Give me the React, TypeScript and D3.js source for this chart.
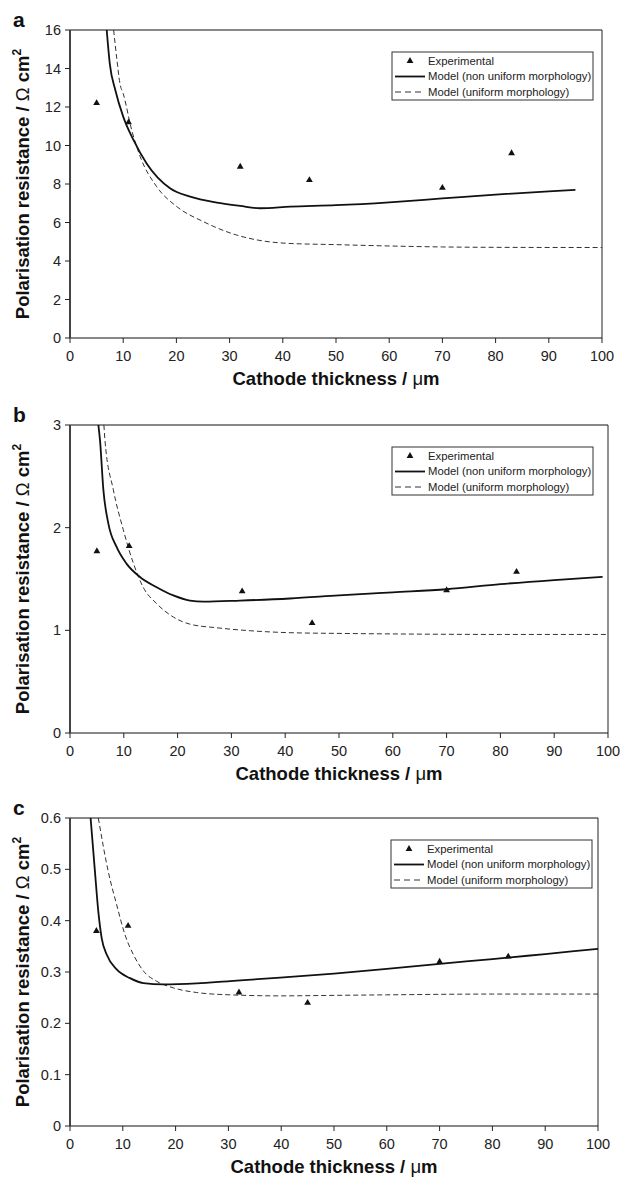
import React from "react";
import * as d3 from "d3";

// Cathode thickness (µm) at which polarisation resistance was measured
const expThickness = [5, 11, 32, 45, 70, 83];

// Measured polarisation resistance (Ω cm²)
const expA = [12.2, 11.2, 8.9, 8.2, 7.8, 9.6];
const expB = [1.77, 1.82, 1.38, 1.07, 1.39, 1.57];
const expC = [0.38, 0.39, 0.26, 0.24, 0.32, 0.33];

// Model, non uniform morphology: [thickness, resistance]
const nonUniformA: [number, number][] = [
  [6.9, 16], [7.5, 14.2], [8.5, 12.9], [10, 11.5], [11.9, 10.3], [14.4, 9.07],
  [18.8, 7.78], [22.6, 7.34], [27.6, 7.03], [32, 6.86], [35.7, 6.74], [41.4, 6.82],
  [50, 6.9], [60, 7.05], [70, 7.25], [80, 7.45], [90, 7.62], [95, 7.7],
];
const nonUniformB: [number, number][] = [
  [5.27, 3], [5.58, 2.85], [6.2, 2.37], [7.13, 2.04], [8.68, 1.81], [10.5, 1.65],
  [13, 1.52], [16.1, 1.42], [19.2, 1.34], [22.3, 1.29], [24.8, 1.28], [31.6, 1.29],
  [40.9, 1.31], [50, 1.34], [60, 1.37], [70, 1.4], [80, 1.45], [90, 1.49], [99, 1.52],
];
const nonUniformC: [number, number][] = [
  [3.9, 0.6], [4.73, 0.495], [5.36, 0.418], [6, 0.366], [6.95, 0.334], [8.84, 0.305],
  [11.36, 0.288], [13.9, 0.2785], [17.7, 0.276], [24, 0.278], [30.3, 0.2824],
  [39.8, 0.289], [50, 0.297], [60, 0.306], [70, 0.316], [80, 0.325], [90, 0.335], [100, 0.345],
];

// Model, uniform morphology: [thickness, resistance]
const uniformA: [number, number][] = [
  [8.2, 16], [8.8, 14.5], [9.4, 13.2], [10, 12.7], [11.6, 10.8], [13.2, 9.42],
  [16.3, 7.86], [20.1, 6.82], [25.1, 6.04], [31.3, 5.35], [36.3, 5.04], [40.7, 4.92],
  [50, 4.85], [60, 4.78], [70, 4.73], [80, 4.71], [100, 4.7],
];
const uniformB: [number, number][] = [
  [6.3, 3], [6.5, 2.85], [8.05, 2.37], [9.9, 1.98], [11.8, 1.65], [13.6, 1.42],
  [16.1, 1.26], [19.2, 1.13], [22.3, 1.06], [27.3, 1.025], [33.5, 0.996], [40.9, 0.977],
  [50, 0.97], [60, 0.965], [80, 0.96], [100, 0.96],
];
const uniformC: [number, number][] = [
  [5.36, 0.6], [7.26, 0.495], [8.84, 0.431], [10.4, 0.373], [12, 0.334], [13.9, 0.302],
  [16.4, 0.282], [19.6, 0.269], [24, 0.26], [30.3, 0.2555], [39.8, 0.2535], [50, 0.2545],
  [60, 0.2555], [80, 0.257], [100, 0.257],
];

const xTicks = [0, 10, 20, 30, 40, 50, 60, 70, 80, 90, 100];
const yTicksA = [0, 2, 4, 6, 8, 10, 12, 14, 16];
const yTicksB = [0, 1, 2, 3];
const yTicksC = [0, 0.1, 0.2, 0.3, 0.4, 0.5, 0.6];

const legendLabels = [
  "Experimental",
  "Model (non uniform morphology)",
  "Model (uniform morphology)",
];

const FONT = "'Liberation Sans', Arial, Helvetica, sans-serif";

type PanelProps = {
  id: string;
  letter: string;
  top: number;
  bottom: number;
  left: number;
  right: number;
  yTicks: number[];
  yFmt: (v: number) => string;
  exp: number[];
  nonUniform: [number, number][];
  uniform: [number, number][];
  legendLeft: number;
};

function Panel(p: PanelProps) {
  const x = d3.scaleLinear().domain([0, 100]).range([p.left, p.right]);
  const yMax = p.yTicks[p.yTicks.length - 1];
  const y = d3.scaleLinear().domain([0, yMax]).range([p.bottom, p.top]);
  const line = d3
    .line<[number, number]>()
    .x((d) => x(d[0]))
    .y((d) => y(d[1]))
    .curve(d3.curveMonotoneX);
  const tri = d3.symbol().type(d3.symbolTriangle).size(20)() as string;
  const clipId = `clip-${p.id}`;
  const midX = (p.left + p.right) / 2;
  const midY = (p.top + p.bottom) / 2;
  const lgTop = p.top + 22;
  const lgRows = [lgTop + 9, lgTop + 24.5, lgTop + 40];

  return (
    <g>
      <defs>
        <clipPath id={clipId}>
          <rect x={p.left} y={p.top} width={p.right - p.left} height={p.bottom - p.top} />
        </clipPath>
      </defs>

      {/* panel letter */}
      <text x={13} y={p.top - 3} fontFamily={FONT} fontWeight="bold" fontSize={21} fill="#111">
        {p.letter}
      </text>

      {/* plot frame */}
      <line x1={p.left} x2={p.right} y1={p.top} y2={p.top} stroke="#111" strokeWidth={1} />
      <line x1={p.right} x2={p.right} y1={p.top} y2={p.bottom} stroke="#222" strokeWidth={1} />
      <line x1={p.left} x2={p.right} y1={p.bottom} y2={p.bottom} stroke="#111" strokeWidth={1.2} />
      <line x1={p.left} x2={p.left} y1={p.top} y2={p.bottom} stroke="#444" strokeWidth={2} />

      {/* y axis */}
      {p.yTicks.map((t) => (
        <g key={`y${t}`}>
          <line x1={p.left - 5} x2={p.left} y1={y(t)} y2={y(t)} stroke="#222" strokeWidth={1} />
          <text
            x={p.left - 9}
            y={y(t)}
            dy="0.35em"
            textAnchor="end"
            fontFamily={FONT}
            fontSize={14.5}
            fill="#222"
          >
            {p.yFmt(t)}
          </text>
        </g>
      ))}

      {/* x axis */}
      {xTicks.map((t) => (
        <g key={`x${t}`}>
          <line x1={x(t)} x2={x(t)} y1={p.bottom} y2={p.bottom + 5} stroke="#222" strokeWidth={1} />
          <text
            x={x(t)}
            y={p.bottom + 23}
            textAnchor="middle"
            fontFamily={FONT}
            fontSize={14.5}
            fill="#222"
          >
            {t}
          </text>
        </g>
      ))}

      {/* axis titles */}
      <text
        x={midX}
        y={p.bottom + 47}
        textAnchor="middle"
        fontFamily={FONT}
        fontWeight="bold"
        fontSize={18.5}
        fill="#111"
      >
        Cathode thickness / <tspan fontWeight="normal">μ</tspan>m
      </text>
      <text
        transform={`translate(29,${midY}) rotate(-90)`}
        textAnchor="middle"
        fontFamily={FONT}
        fontWeight="bold"
        fontSize={18.5}
        fill="#111"
      >
        Polarisation resistance / <tspan fontWeight="normal">Ω</tspan> cm
        <tspan fontSize={12} dy={-8}>2</tspan>
      </text>

      {/* model curves */}
      <g clipPath={`url(#${clipId})`}>
        <path
          d={line(p.uniform) ?? ""}
          fill="none"
          stroke="#333"
          strokeWidth={1}
          strokeDasharray="5,3"
        />
        <path d={line(p.nonUniform) ?? ""} fill="none" stroke="#111" strokeWidth={1.8} />
      </g>

      {/* experimental points */}
      {expThickness.map((t, i) => (
        <path key={`p${i}`} d={tri} transform={`translate(${x(t)},${y(p.exp[i])})`} fill="#111" />
      ))}

      {/* legend */}
      <g>
        <rect
          x={p.legendLeft}
          y={lgTop}
          width={201}
          height={48}
          fill="#fff"
          stroke="#333"
          strokeWidth={1}
        />
        <path d={tri} transform={`translate(${p.legendLeft + 18},${lgRows[0]})`} fill="#111" />
        <line
          x1={p.legendLeft + 3}
          x2={p.legendLeft + 33}
          y1={lgRows[1]}
          y2={lgRows[1]}
          stroke="#111"
          strokeWidth={1.8}
        />
        <line
          x1={p.legendLeft + 3}
          x2={p.legendLeft + 33}
          y1={lgRows[2]}
          y2={lgRows[2]}
          stroke="#333"
          strokeWidth={1}
          strokeDasharray="6,4"
        />
        {legendLabels.map((lab, i) => (
          <text
            key={lab}
            x={p.legendLeft + 36}
            y={lgRows[i]}
            dy="0.35em"
            fontFamily={FONT}
            fontSize={11.3}
            fill="#222"
          >
            {lab}
          </text>
        ))}
      </g>
    </g>
  );
}

const fmtInt = (v: number) => String(v);
const fmtTenth = (v: number) => (v === 0 ? "0" : d3.format(".1f")(v));

export default function App() {
  return (
    <svg
      width={620}
      height={1178}
      style={{ position: "absolute", left: 0, top: 0, background: "#fff" }}
    >
      <rect width={620} height={1178} fill="#fff" />
      <Panel
        id="a"
        letter="a"
        top={30}
        bottom={338}
        left={70}
        right={602}
        yTicks={yTicksA}
        yFmt={fmtInt}
        exp={expA}
        nonUniform={nonUniformA}
        uniform={uniformA}
        legendLeft={392}
      />
      <Panel
        id="b"
        letter="b"
        top={425}
        bottom={733}
        left={70}
        right={608}
        yTicks={yTicksB}
        yFmt={fmtInt}
        exp={expB}
        nonUniform={nonUniformB}
        uniform={uniformB}
        legendLeft={392}
      />
      <Panel
        id="c"
        letter="c"
        top={818}
        bottom={1126}
        left={70}
        right={598}
        yTicks={yTicksC}
        yFmt={fmtTenth}
        exp={expC}
        nonUniform={nonUniformC}
        uniform={uniformC}
        legendLeft={391}
      />
    </svg>
  );
}
